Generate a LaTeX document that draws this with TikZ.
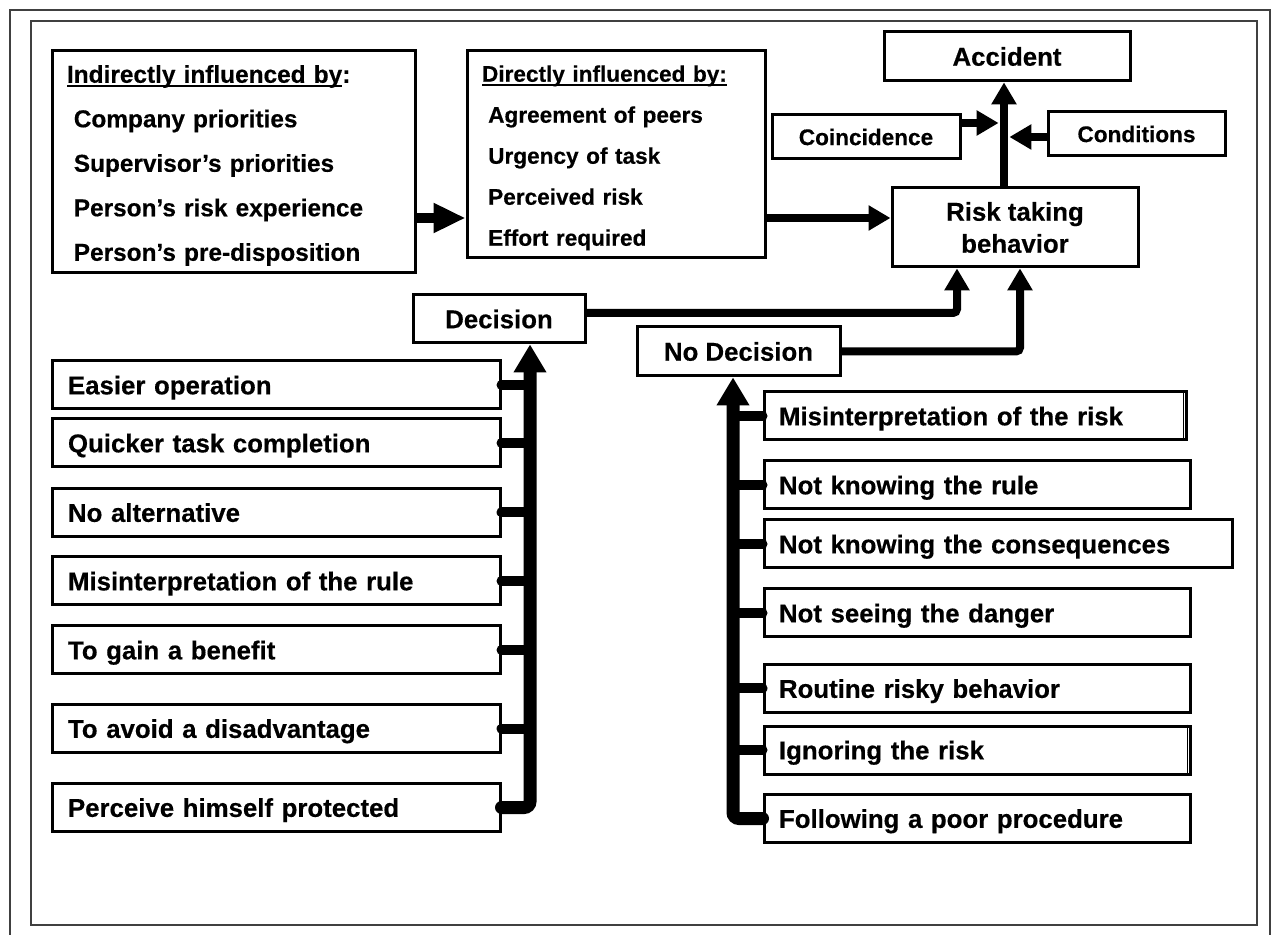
\documentclass[tikz,border=0pt]{standalone}
\usepackage{fontspec}
\setmainfont{Liberation Sans}[BoldFeatures={FakeBold=0.4}]
\usetikzlibrary{arrows.meta}
\pgfdeclarelayer{edgelayer}
\pgfdeclarelayer{nodelayer}
\pgfsetlayers{edgelayer,nodelayer,main}
\newcommand{\ulhead}[1]{\setbox0=\hbox{#1}\rlap{\rule[-2.3pt]{\wd0}{1.2pt}}\box0}
\tikzstyle{none}=[inner sep=0pt]
\tikzstyle{frame}=[draw=black!75, line width=1pt]
\tikzstyle{block}=[rectangle, draw=black, line width=1.5pt, inner sep=0pt, font=\bfseries\fontsize{12.9}{15}\selectfont]
\tikzstyle{reason}=[block, align=left, text depth=0pt, minimum height=24pt]
\tikzstyle{leftreason}=[reason, inner xsep=8pt, text width=208pt]
\tikzstyle{rightreason}=[reason, inner xsep=7.5pt, text width=198pt]
\tikzstyle{influence}=[block, align=left, inner xsep=7.5pt]
\tikzstyle{flow}=[draw=black, line width=4pt, -{Triangle[length=11pt,width=12pt]}]
\tikzstyle{push}=[draw=black, line width=5pt, -{Triangle[length=16pt,width=14pt]}]
\tikzstyle{trunk}=[draw=black, line width=6.5pt, line cap=round, rounded corners=3pt, -{Triangle[length=14pt,width=15.5pt]}]
\tikzstyle{branch}=[draw=black, line width=5pt, line cap=round]
\begin{document}
\begin{tikzpicture}[x=0.5pt, y=-0.5pt]
	\useasboundingbox (0, 0) rectangle (1281, 935);
	\begin{pgfonlayer}{nodelayer}
		\node [style=influence, text width=166.5pt, minimum height=111pt, font=\bfseries\fontsize{12.2}{22.25}\selectfont] (0) at (233.5, 162) {\rule{0pt}{12.3pt}\ulhead{Indirectly influenced by}:\\\hspace*{3.4pt}Company priorities\\\hspace*{3.4pt}Supervisor’s priorities\\\hspace*{3.4pt}Person’s risk experience\\\hspace*{3.4pt}Person’s pre-disposition};
		\node [style=influence, text width=134pt, minimum height=103.5pt, font=\bfseries\fontsize{11.3}{20.5}\selectfont] (1) at (616, 154.5) {\rule{0pt}{11.6pt}\ulhead{Directly influenced by:}\\\hspace*{3.1pt}Agreement of peers\\\hspace*{3.1pt}Urgency of task\\\hspace*{3.1pt}Perceived risk\\\hspace*{3.1pt}Effort required};
		\node [style=block, minimum width=123pt, minimum height=24.5pt] (2) at (1007, 56.5) {Accident};
		\node [style=block, minimum width=94pt, minimum height=22pt, font=\bfseries\fontsize{11.3}{14}\selectfont] (3) at (866, 137) {Coincidence};
		\node [style=block, minimum width=88.5pt, minimum height=22pt, font=\bfseries\fontsize{11.3}{14}\selectfont] (4) at (1136.5, 134) {Conditions};
		\node [style=block, minimum width=123pt, minimum height=39.5pt, align=center, font=\bfseries\fontsize{12.9}{16}\selectfont] (5) at (1015, 227.5) {Risk taking\\behavior};
		\node [style=block, minimum width=86pt, minimum height=24pt] (6) at (499, 319) {Decision};
		\node [style=block, minimum width=101.5pt, minimum height=24.5pt] (7) at (738.5, 351.5) {No Decision};
		\node [style=leftreason] (8) at (276, 385) {Easier operation};
		\node [style=leftreason] (9) at (276, 443) {Quicker task completion};
		\node [style=leftreason] (10) at (276, 512.5) {No alternative};
		\node [style=leftreason] (11) at (276, 581) {Misinterpretation of the rule};
		\node [style=leftreason] (12) at (276, 650) {To gain a benefit};
		\node [style=leftreason] (13) at (276, 728.5) {To avoid a disadvantage};
		\node [style=leftreason] (14) at (276, 807.5) {Perceive himself protected};
		\node [style=rightreason, text width=196pt] (15) at (975, 416) {Misinterpretation of the risk};
		\node [style=rightreason] (16) at (977, 485) {Not knowing the rule};
		\node [style=rightreason, text width=219pt] (17) at (998, 544) {Not knowing the consequences};
		\node [style=rightreason] (18) at (977, 613) {Not seeing the danger};
		\node [style=rightreason] (19) at (977, 688.5) {Routine risky behavior};
		\node [style=rightreason] (20) at (977, 750) {Ignoring the risk};
		\node [style=rightreason] (21) at (977, 818.5) {Following a poor procedure};
		\node [style=none] (22) at (530, 343) {};
		\node [style=none] (23) at (733, 376) {};
		\node [style=none] (24) at (957, 267) {};
		\node [style=none] (25) at (1020, 267) {};
		\node [style=none] (26) at (1004, 81) {};
		\node [style=none] (27) at (1000, 123) {};
		\node [style=none] (28) at (1008, 137) {};
	\end{pgfonlayer}
	\begin{pgfonlayer}{edgelayer}
		\draw [style=frame] (10, 10) rectangle (1270, 945);
		\draw [style=frame] (31, 21) rectangle (1257, 925);
		\draw [style=push] ([yshift=-28pt]0.east) to ([yshift=-31.75pt]1.west);
		\draw [style=flow] ([yshift=-31.75pt]1.east) to ([yshift=4.75pt]5.west);
		\draw [style=flow] (5.north -| 26) to (26);
		\draw [style=flow] ([yshift=7pt]3.east) to (27);
		\draw [style=flow] ([yshift=-1.5pt]4.west) to (28);
		\draw [style=flow, rounded corners=2pt] ([yshift=3pt]6.east) -| (24);
		\draw [style=flow, rounded corners=2pt] (7.east) -| (25);
		\draw [style=trunk] (14.east) -| (22);
		\draw [style=branch] (8.east) to (8.east -| 22);
		\draw [style=branch] (9.east) to (9.east -| 22);
		\draw [style=branch] (10.east) to (10.east -| 22);
		\draw [style=branch] (11.east) to (11.east -| 22);
		\draw [style=branch] (12.east) to (12.east -| 22);
		\draw [style=branch] (13.east) to (13.east -| 22);
		\draw [style=trunk] (21.west) -| (23);
		\draw [style=branch] (15.west) to (15.west -| 23);
		\draw [style=branch] (16.west) to (16.west -| 23);
		\draw [style=branch] (17.west) to (17.west -| 23);
		\draw [style=branch] (18.west) to (18.west -| 23);
		\draw [style=branch] (19.west) to (19.west -| 23);
		\draw [style=branch] (20.west) to (20.west -| 23);
		\draw [line width=0.7pt] ([xshift=-2pt]15.north east) to ([xshift=-2pt]15.south east);
		\draw [line width=0.7pt] ([xshift=-2pt]20.north east) to ([xshift=-2pt]20.south east);
	\end{pgfonlayer}
\end{tikzpicture}
\end{document}
